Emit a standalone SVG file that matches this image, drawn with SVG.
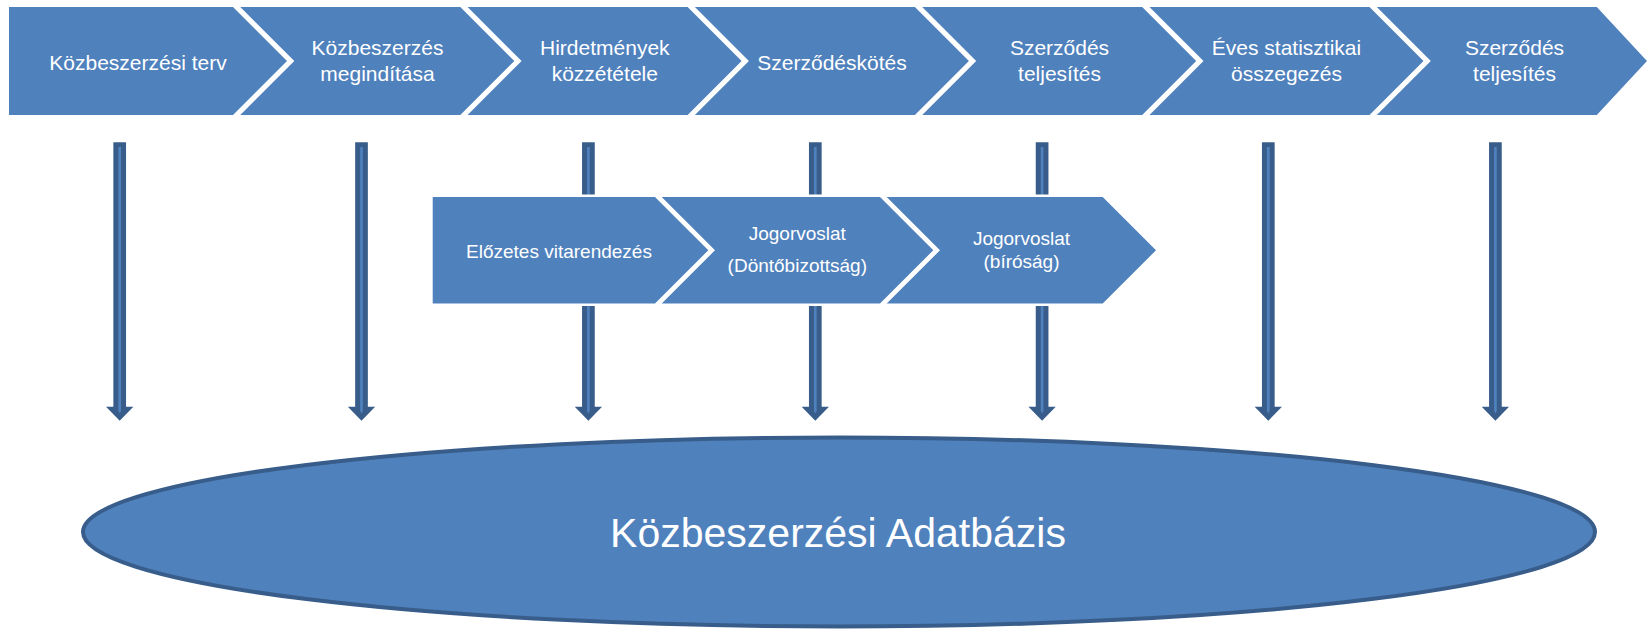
<svg xmlns="http://www.w3.org/2000/svg" xmlns:xlink="http://www.w3.org/1999/xlink" width="1648" height="629" viewBox="0 0 1648 629">
  <style>
    .chev { fill: #4F81BD; }
    .chev2 { fill: #4F81BD; stroke: #FFFFFF; stroke-width: 5; paint-order: stroke fill; stroke-linejoin: miter; }
    .t1 { font-family: "Liberation Sans", Arial, sans-serif; font-size: 21px; fill: #FFFFFF; text-anchor: middle; }
    .t2 { font-family: "Liberation Sans", Arial, sans-serif; font-size: 19px; fill: #FFFFFF; text-anchor: middle; }
    .tdb { font-family: "Liberation Sans", Arial, sans-serif; font-size: 41px; fill: #FFFFFF; text-anchor: middle; }
    .arrDark { fill: #385D8A; }
    .arrLight { fill: #4F81BD; }
    .db { fill: #4F81BD; stroke: #385D8A; stroke-width: 4; }
  </style>
  <defs>
    <g id="downArrow">
      <path class="arrDark" d="M -6.35 142.3 H 6.35 V 406.7 H 13.65 L 0 420.7 L -13.65 406.7 H -6.35 Z"/>
      <path class="arrLight" d="M -1.35 147 H 1.35 V 411 L 0 413.5 L -1.35 411 Z"/>
    </g>
  </defs>

  <rect width="1648" height="629" fill="#FFFFFF"/>

  <!-- Top process row -->
  <g id="step1">
    <polygon class="chev" points="9,7 233,7 287,61 233,115 9,115"/>
    <text class="t1" x="138" y="69.5">Közbeszerzési terv</text>
  </g>
  <g id="step2">
    <polygon class="chev" points="240.3,7 460.3,7 514.3,61 460.3,115 240.3,115 294.3,61"/>
    <text class="t1" x="377.5" y="55">Közbeszerzés</text>
    <text class="t1" x="377.5" y="80.5">megindítása</text>
  </g>
  <g id="step3">
    <polygon class="chev" points="467.6,7 687.6,7 741.6,61 687.6,115 467.6,115 521.6,61"/>
    <text class="t1" x="604.8" y="55">Hirdetmények</text>
    <text class="t1" x="604.8" y="81">közzététele</text>
  </g>
  <g id="step4">
    <polygon class="chev" points="694.9,7 914.9,7 968.9,61 914.9,115 694.9,115 748.9,61"/>
    <text class="t1" x="832" y="69.5">Szerződéskötés</text>
  </g>
  <g id="step5">
    <polygon class="chev" points="922.2,7 1142.2,7 1196.2,61 1142.2,115 922.2,115 976.2,61"/>
    <text class="t1" x="1059.5" y="55">Szerződés</text>
    <text class="t1" x="1059.5" y="80.5">teljesítés</text>
  </g>
  <g id="step6">
    <polygon class="chev" points="1149.5,7 1369.5,7 1423.5,61 1369.5,115 1149.5,115 1203.5,61"/>
    <text class="t1" x="1286.5" y="55">Éves statisztikai</text>
    <text class="t1" x="1286.5" y="80.5">összegezés</text>
  </g>
  <g id="step7">
    <polygon class="chev" points="1376.8,7 1596.8,7 1647,61 1596.8,115 1376.8,115 1430.8,61"/>
    <text class="t1" x="1514.5" y="55">Szerződés</text>
    <text class="t1" x="1514.5" y="80.5">teljesítés</text>
  </g>

  <!-- Connectors: downward arrows to the database -->
  <g id="connectors">
    <use xlink:href="#downArrow" href="#downArrow" transform="translate(119.7,0)"/>
    <use xlink:href="#downArrow" href="#downArrow" transform="translate(361.5,0)"/>
    <use xlink:href="#downArrow" href="#downArrow" transform="translate(588.4,0)"/>
    <use xlink:href="#downArrow" href="#downArrow" transform="translate(815.3,0)"/>
    <use xlink:href="#downArrow" href="#downArrow" transform="translate(1042.1,0)"/>
    <use xlink:href="#downArrow" href="#downArrow" transform="translate(1268.3,0)"/>
    <use xlink:href="#downArrow" href="#downArrow" transform="translate(1495.4,0)"/>
  </g>

  <!-- Second (legal remedy) row -->
  <g id="remedy1">
    <polygon class="chev2" points="432.7,197 655,197 708.3,250.25 655,303.5 432.7,303.5"/>
    <text class="t2" x="559" y="258.3">Előzetes vitarendezés</text>
  </g>
  <g id="remedy2">
    <polygon class="chev2" points="661.7,197 880,197 933.3,250.25 880,303.5 661.7,303.5 715,250.25"/>
    <text class="t2" x="797.3" y="240">Jogorvoslat</text>
    <text class="t2" x="797.3" y="272">(Döntőbizottság)</text>
  </g>
  <g id="remedy3">
    <polygon class="chev2" points="886.7,197 1102.7,197 1156,250.25 1102.7,303.5 886.7,303.5 940,250.25"/>
    <text class="t2" x="1021.5" y="245">Jogorvoslat</text>
    <text class="t2" x="1021.5" y="268">(bíróság)</text>
  </g>

  <!-- Database ellipse -->
  <g id="database">
    <ellipse class="db" cx="839" cy="532" rx="756" ry="94.5"/>
    <text class="tdb" x="838" y="546.7">Közbeszerzési Adatbázis</text>
  </g>
</svg>
